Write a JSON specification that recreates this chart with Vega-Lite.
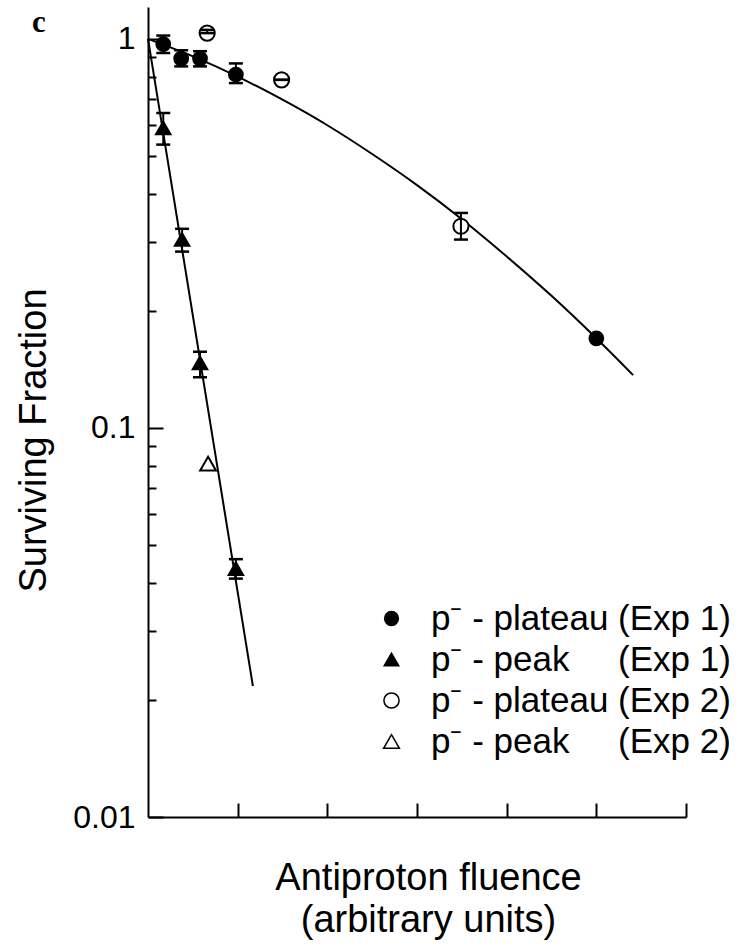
{
  "$schema": "https://vega.github.io/schema/vega-lite/v6.json",
  "width": 538,
  "height": 810,
  "autosize": {"type": "none"},
  "padding": {"left": 148, "top": 7, "right": 53, "bottom": 130},
  "background": "white",
  "config": {
    "view": {"stroke": null},
    "font": "Liberation Sans",
    "axis": {
      "domainColor": "black", "tickColor": "black", "labelColor": "black", "titleColor": "black",
      "domainWidth": 2, "tickWidth": 2, "grid": false,
      "labelFont": "Liberation Sans", "titleFont": "Liberation Sans", "titleFontWeight": "normal"
    },
    "legend": {"labelFont": "Liberation Sans", "labelColor": "black"}
  },
  "title": {
    "text": "c", "anchor": "start", "frame": "group", "orient": "top",
    "font": "Liberation Serif", "fontSize": 31, "fontWeight": "bold", "color": "black",
    "baseline": "alphabetic", "offset": 0, "dx": -116, "dy": 56
  },
  "datasets": {
    "points": [
      {"x": 0.17, "y": 0.97, "lo": 0.92, "hi": 1.02, "series": "p⁻ - plateau (Exp 1)"},
      {"x": 0.37, "y": 0.89, "lo": 0.85, "hi": 0.935, "series": "p⁻ - plateau (Exp 1)"},
      {"x": 0.58, "y": 0.89, "lo": 0.85, "hi": 0.93, "series": "p⁻ - plateau (Exp 1)"},
      {"x": 0.98, "y": 0.81, "lo": 0.77, "hi": 0.865, "series": "p⁻ - plateau (Exp 1)"},
      {"x": 5.0, "y": 0.17, "lo": null, "hi": null, "series": "p⁻ - plateau (Exp 1)"},
      {"x": 0.17, "y": 0.59, "lo": 0.535, "hi": 0.645, "series": "p⁻ - peak\u00a0\u00a0\u00a0\u00a0\u00a0(Exp 1)"},
      {"x": 0.38, "y": 0.305, "lo": 0.284, "hi": 0.325, "series": "p⁻ - peak\u00a0\u00a0\u00a0\u00a0\u00a0(Exp 1)"},
      {"x": 0.58, "y": 0.147, "lo": 0.135, "hi": 0.157, "series": "p⁻ - peak\u00a0\u00a0\u00a0\u00a0\u00a0(Exp 1)"},
      {"x": 0.98, "y": 0.0435, "lo": 0.041, "hi": 0.046, "series": "p⁻ - peak\u00a0\u00a0\u00a0\u00a0\u00a0(Exp 1)"},
      {"x": 0.66, "y": 1.035, "lo": 1.035, "hi": 1.055, "series": "p⁻ - plateau (Exp 2)"},
      {"x": 1.49, "y": 0.785, "lo": 0.785, "hi": 0.785, "series": "p⁻ - plateau (Exp 2)"},
      {"x": 3.49, "y": 0.33, "lo": 0.305, "hi": 0.357, "series": "p⁻ - plateau (Exp 2)"},
      {"x": 0.67, "y": 0.081, "lo": null, "hi": null, "series": "p⁻ - peak\u00a0\u00a0\u00a0\u00a0\u00a0(Exp 2)"}
    ],
    "lines": [
      {"x": 0, "y": 1.0, "curve": "plateau"},
      {"x": 0.5, "y": 0.902, "curve": "plateau"},
      {"x": 1.0, "y": 0.800, "curve": "plateau"},
      {"x": 1.5, "y": 0.698, "curve": "plateau"},
      {"x": 2.0, "y": 0.600, "curve": "plateau"},
      {"x": 2.5, "y": 0.506, "curve": "plateau"},
      {"x": 3.0, "y": 0.421, "curve": "plateau"},
      {"x": 3.5, "y": 0.344, "curve": "plateau"},
      {"x": 4.0, "y": 0.276, "curve": "plateau"},
      {"x": 4.5, "y": 0.2186, "curve": "plateau"},
      {"x": 5.0, "y": 0.170, "curve": "plateau"},
      {"x": 5.41, "y": 0.1367, "curve": "plateau"},
      {"x": 0, "y": 1.0, "curve": "peak"},
      {"x": 1.17, "y": 0.0217, "curve": "peak"}
    ]
  },
  "layer": [
    {
      "data": {"name": "lines"},
      "mark": {"type": "line", "color": "black", "strokeWidth": 2, "interpolate": "natural"},
      "encoding": {
        "x": {
          "field": "x", "type": "quantitative",
          "scale": {"type": "linear", "domain": [0, 6], "nice": false, "zero": false},
          "axis": {
            "values": [1, 2, 3, 4, 5, 6], "labels": false, "tickSize": -14,
            "title": ["Antiproton fluence", "(arbitrary units)"],
            "titleFontSize": 38, "titleLineHeight": 42, "titlePadding": 41,
            "titleX": 280, "titleAlign": "center", "titleBaseline": "top"
          }
        },
        "y": {
          "field": "y", "type": "quantitative",
          "scale": {"type": "log", "domain": [0.01, 1.208], "nice": false},
          "axis": {
            "title": "Surviving Fraction",
            "values": [0.01, 0.02, 0.03, 0.04, 0.05, 0.06, 0.07, 0.08, 0.09, 0.1, 0.2, 0.3, 0.4, 0.5, 0.6, 0.7, 0.8, 0.9, 1],
            "labelExpr": "datum.value == 1 ? '1' : datum.value == 0.1 ? '0.1' : datum.value == 0.01 ? '0.01' : ''",
            "tickSize": {"condition": {"test": "datum.value == 1 || datum.value == 0.1 || datum.value == 0.01", "value": -15}, "value": -8},
            "labelFontSize": 32, "labelPadding": 28, "labelOverlap": false, "labelBound": false, "labelFlush": false,
            "titleFontSize": 38, "titleX": -114, "titleY": 433, "titleAngle": -90,
            "titleAlign": "center", "titleBaseline": "middle"
          }
        },
        "detail": {"field": "curve"}
      }
    },
    {
      "data": {"name": "points"},
      "mark": {"type": "point", "filled": false, "stroke": "black", "strokeWidth": 2, "opacity": 1},
      "encoding": {
        "x": {"field": "x", "type": "quantitative"},
        "y": {"field": "y", "type": "quantitative"},
        "shape": {
          "field": "series", "type": "nominal",
          "scale": {
            "domain": ["p⁻ - plateau (Exp 1)", "p⁻ - peak\u00a0\u00a0\u00a0\u00a0\u00a0(Exp 1)", "p⁻ - plateau (Exp 2)", "p⁻ - peak\u00a0\u00a0\u00a0\u00a0\u00a0(Exp 2)"],
            "range": ["circle", "triangle-up", "circle", "triangle-up"]
          },
          "legend": {
            "orient": "none", "legendX": 226, "legendY": 594, "title": null,
            "labelFontSize": 35, "labelOffset": 22, "rowPadding": 5, "padding": 0,
            "symbolStrokeWidth": 1.5, "symbolStrokeColor": "black", "labelLimit": 500
          }
        },
        "fill": {
          "field": "series", "type": "nominal",
          "scale": {
            "domain": ["p⁻ - plateau (Exp 1)", "p⁻ - peak\u00a0\u00a0\u00a0\u00a0\u00a0(Exp 1)", "p⁻ - plateau (Exp 2)", "p⁻ - peak\u00a0\u00a0\u00a0\u00a0\u00a0(Exp 2)"],
            "range": ["black", "black", "white", "white"]
          }
        },
        "size": {
          "field": "series", "type": "nominal",
          "scale": {
            "domain": ["p⁻ - plateau (Exp 1)", "p⁻ - peak\u00a0\u00a0\u00a0\u00a0\u00a0(Exp 1)", "p⁻ - plateau (Exp 2)", "p⁻ - peak\u00a0\u00a0\u00a0\u00a0\u00a0(Exp 2)"],
            "range": [190, 250, 140, 160]
          }
        }
      }
    },
    {
      "data": {"name": "points"},
      "transform": [{"filter": "datum.lo != null"}],
      "mark": {"type": "rule", "color": "black", "strokeWidth": 2, "opacity": 1},
      "encoding": {
        "x": {"field": "x", "type": "quantitative"},
        "y": {"field": "lo", "type": "quantitative"},
        "y2": {"field": "hi"}
      }
    },
    {
      "data": {"name": "points"},
      "transform": [{"filter": "datum.lo != null"}],
      "mark": {"type": "tick", "orient": "horizontal", "color": "black", "thickness": 2.5, "size": 14, "opacity": 1},
      "encoding": {
        "x": {"field": "x", "type": "quantitative"},
        "y": {"field": "lo", "type": "quantitative"}
      }
    },
    {
      "data": {"name": "points"},
      "transform": [{"filter": "datum.lo != null"}],
      "mark": {"type": "tick", "orient": "horizontal", "color": "black", "thickness": 2.5, "size": 14, "opacity": 1},
      "encoding": {
        "x": {"field": "x", "type": "quantitative"},
        "y": {"field": "hi", "type": "quantitative"}
      }
    }
  ]
}
